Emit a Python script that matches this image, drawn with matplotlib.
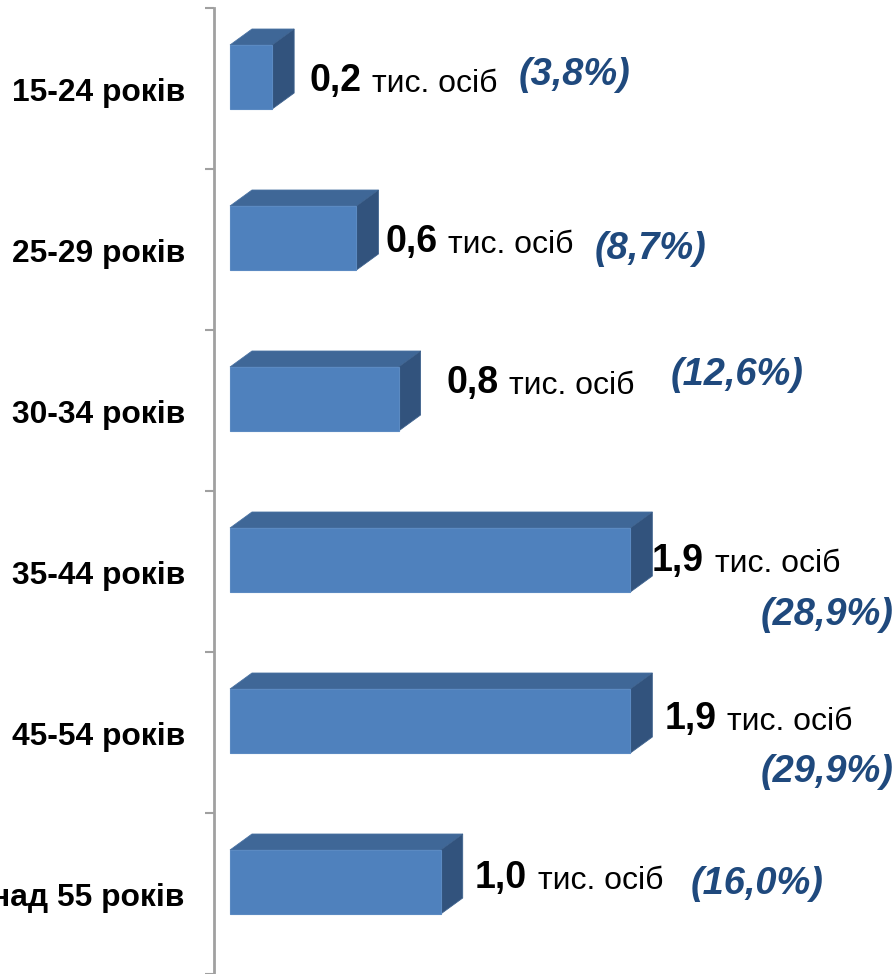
import matplotlib
matplotlib.use("Agg")
import matplotlib.pyplot as plt
from matplotlib.patches import Polygon

# age groups, thousand persons and share, top to bottom
groups = ["15-24 років", "25-29 років", "30-34 років", "35-44 років", "45-54 років", "над 55 років"]
values = [0.2, 0.6, 0.8, 1.9, 1.9, 1.0]
value_labels = ["0,2", "0,6", "0,8", "1,9", "1,9", "1,0"]
shares = ["(3,8%)", "(8,7%)", "(12,6%)", "(28,9%)", "(29,9%)", "(16,0%)"]

W, H = 896, 974
# label placement in pixels of the picture
value_x = [309, 385, 446, 652, 665, 475]
unit_x = [372, 448, 509, 715, 727, 538]
label_base = [91, 252, 393, 571, 729, 888]
share_x = [519, 595, 671, 761, 761, 691]
share_base = [85, 259, 385, 625, 782, 894]

plt.rcParams["font.family"] = ["Liberation Sans", "DejaVu Sans"]

fig = plt.figure(figsize=(W / 100, H / 100), dpi=100)
ax = fig.add_axes([0, 0, 1, 1])

px_per_unit = 210.7
band = 161.0
# data limits so that x=0 sits at px 230 and the first band starts at px 8
ax.set_xlim(-230 / px_per_unit, (W - 230) / px_per_unit)
ax.set_ylim((H - 8) / band - 0.5, -8 / band - 0.5)

bar_h = 64 / band
dx = 22 / px_per_unit
dy = 16 / band
ypos = [i - 0.0714 for i in range(len(groups))]

ax.barh(ypos, values, height=bar_h, color="#4F81BD", edgecolor="#5B8AC2", linewidth=0.8, zorder=3)
for y, v in zip(ypos, values):
    top = y - bar_h / 2
    bot = y + bar_h / 2
    ax.add_patch(Polygon([(0, top), (dx, top - dy), (v + dx, top - dy), (v, top)],
                         closed=True, facecolor="#3F6797", edgecolor="#4A72A2", linewidth=0.6, zorder=2))
    ax.add_patch(Polygon([(v, top), (v + dx, top - dy), (v + dx, bot - dy), (v, bot)],
                         closed=True, facecolor="#32537D", edgecolor="#3E628E", linewidth=0.6, zorder=2))

for s in ["top", "right", "bottom"]:
    ax.spines[s].set_visible(False)
ax.spines["left"].set_position(("data", -16 / px_per_unit))
ax.spines["left"].set_color("#A0A0A0")
ax.spines["left"].set_linewidth(2)
ax.spines["left"].set_bounds(-0.5, 5.5)

ax.set_xticks([])
ax.set_yticks([i - 0.5 for i in range(len(groups) + 1)])
ax.set_yticklabels([])
ax.tick_params(axis="y", which="major", length=6.5, width=1.5, color="#A0A0A0")
ax.set_yticks([i + 0.008 for i in range(len(groups))], minor=True)
ax.set_yticklabels(groups, minor=True, fontweight="bold", fontsize=22.9, color="#000000")
ax.tick_params(axis="y", which="minor", length=0, pad=21)


def put(x, y, s, **kw):
    fig.text(x / W, 1 - y / H, s, va="baseline", ha="left", **kw)


for i in range(len(groups)):
    put(value_x[i], label_base[i], value_labels[i], fontsize=27, fontweight="bold", color="black")
    put(unit_x[i], label_base[i] + 1, "тис. осіб", fontsize=23, color="black")
    put(share_x[i], share_base[i], shares[i], fontsize=27.4, fontweight="bold", style="italic", color="#1F497D")

fig.savefig("out.png", dpi=100)
